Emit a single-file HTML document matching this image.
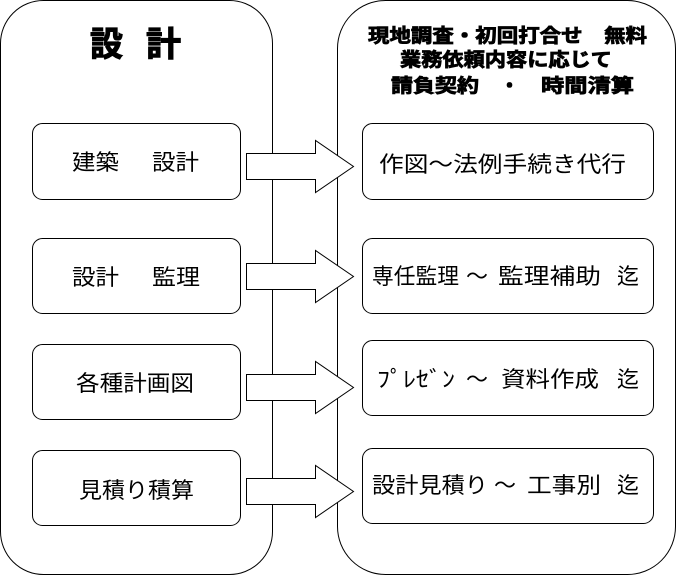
<!DOCTYPE html>
<html>
<head>
<meta charset="utf-8">
<style>
html,body{margin:0;padding:0;background:#fff;}
svg{display:block;}
text{font-family:"Liberation Sans","Noto Sans CJK JP",sans-serif;fill:#000;}
.b{font-weight:bold;stroke:#000;stroke-width:1.1px;}
.lbl{font-size:22px;}
.hd{font-size:19px;font-weight:bold;stroke:#000;stroke-width:0.8px;}
</style>
</head>
<body>
<svg width="677" height="576" viewBox="0 0 677 576" xmlns="http://www.w3.org/2000/svg">
  <!-- containers -->
  <rect x="0.5" y="0.5" width="272" height="574" rx="43" ry="43" fill="#fff" stroke="#000" stroke-width="1"/>
  <rect x="337.5" y="0.5" width="338" height="574" rx="48" ry="48" fill="#fff" stroke="#000" stroke-width="1"/>

  <!-- title -->
  <text x="90" y="56" class="b" font-size="34" textLength="33" lengthAdjust="spacingAndGlyphs">設</text>
  <text x="146" y="56" class="b" font-size="34" textLength="35" lengthAdjust="spacingAndGlyphs">計</text>

  <!-- right header -->
  <text x="368" y="42" class="hd" textLength="279" lengthAdjust="spacingAndGlyphs">現地調査・初回打合せ　無料</text>
  <text x="400" y="66" class="hd" textLength="212" lengthAdjust="spacingAndGlyphs">業務依頼内容に応じて</text>
  <text x="391" y="92" class="hd" textLength="88" lengthAdjust="spacingAndGlyphs">請負契約</text>
  <text x="500" y="92" class="hd">・</text>
  <text x="541" y="92" class="hd" textLength="93" lengthAdjust="spacingAndGlyphs">時間清算</text>

  <!-- left boxes -->
  <rect x="32.5" y="123.5" width="208" height="76" rx="10" fill="#fff" stroke="#000"/>
  <rect x="32.5" y="238.5" width="208" height="75" rx="10" fill="#fff" stroke="#000"/>
  <rect x="32.5" y="344.5" width="208" height="75" rx="10" fill="#fff" stroke="#000"/>
  <rect x="32.5" y="450.5" width="208" height="75" rx="10" fill="#fff" stroke="#000"/>

  <!-- right boxes -->
  <rect x="362.5" y="123.5" width="291" height="76" rx="10" fill="#fff" stroke="#000"/>
  <rect x="362.5" y="238.5" width="291" height="75" rx="10" fill="#fff" stroke="#000"/>
  <rect x="362.5" y="340.5" width="291" height="75" rx="10" fill="#fff" stroke="#000"/>
  <rect x="362.5" y="448.5" width="291" height="75" rx="10" fill="#fff" stroke="#000"/>

  <!-- arrows -->
  <polygon points="246.5,153.5 315.5,153.5 315.5,140.5 353.5,166.5 315.5,192.5 315.5,179.5 246.5,179.5" fill="#fff" stroke="#000"/>
  <polygon points="246.5,263.5 315.5,263.5 315.5,250.5 353.5,276.5 315.5,302.5 315.5,289.5 246.5,289.5" fill="#fff" stroke="#000"/>
  <polygon points="246.5,374.5 315.5,374.5 315.5,361.5 353.5,387.5 315.5,413.5 315.5,400.5 246.5,400.5" fill="#fff" stroke="#000"/>
  <polygon points="246.5,478.5 315.5,478.5 315.5,465.5 353.5,491.5 315.5,517.5 315.5,504.5 246.5,504.5" fill="#fff" stroke="#000"/>

  <!-- left labels -->
  <text x="72" y="170" class="lbl" textLength="47" lengthAdjust="spacingAndGlyphs">建築</text>
  <text x="152" y="170" class="lbl" textLength="47" lengthAdjust="spacingAndGlyphs">設計</text>
  <text x="72" y="285" class="lbl" textLength="47" lengthAdjust="spacingAndGlyphs">設計</text>
  <text x="152" y="285" class="lbl" textLength="48" lengthAdjust="spacingAndGlyphs">監理</text>
  <text x="76" y="391" class="lbl" textLength="118" lengthAdjust="spacingAndGlyphs">各種計画図</text>
  <text x="79" y="498" class="lbl" textLength="115" lengthAdjust="spacingAndGlyphs">見積り積算</text>

  <!-- right labels -->
  <text x="379" y="172" class="lbl" textLength="247" lengthAdjust="spacingAndGlyphs">作図～法例手続き代行</text>

  <text x="372" y="284" class="lbl" textLength="87" lengthAdjust="spacingAndGlyphs">専任監理</text>
  <text x="466" y="284" class="lbl" textLength="22" lengthAdjust="spacingAndGlyphs">～</text>
  <text x="498" y="284" class="lbl" textLength="103" lengthAdjust="spacingAndGlyphs">監理補助</text>
  <text x="617" y="284" class="lbl" textLength="22" lengthAdjust="spacingAndGlyphs">迄</text>

  <text x="377" y="387" class="lbl" textLength="78" lengthAdjust="spacingAndGlyphs">ﾌﾟﾚｾﾞﾝ</text>
  <text x="466" y="387" class="lbl" textLength="22" lengthAdjust="spacingAndGlyphs">～</text>
  <text x="501" y="387" class="lbl" textLength="98" lengthAdjust="spacingAndGlyphs">資料作成</text>
  <text x="617" y="387" class="lbl" textLength="22" lengthAdjust="spacingAndGlyphs">迄</text>

  <text x="372" y="493" class="lbl" textLength="116" lengthAdjust="spacingAndGlyphs">設計見積り</text>
  <text x="494" y="493" class="lbl" textLength="22" lengthAdjust="spacingAndGlyphs">～</text>
  <text x="527" y="493" class="lbl" textLength="74" lengthAdjust="spacingAndGlyphs">工事別</text>
  <text x="617" y="493" class="lbl" textLength="22" lengthAdjust="spacingAndGlyphs">迄</text>
</svg>
</body>
</html>
